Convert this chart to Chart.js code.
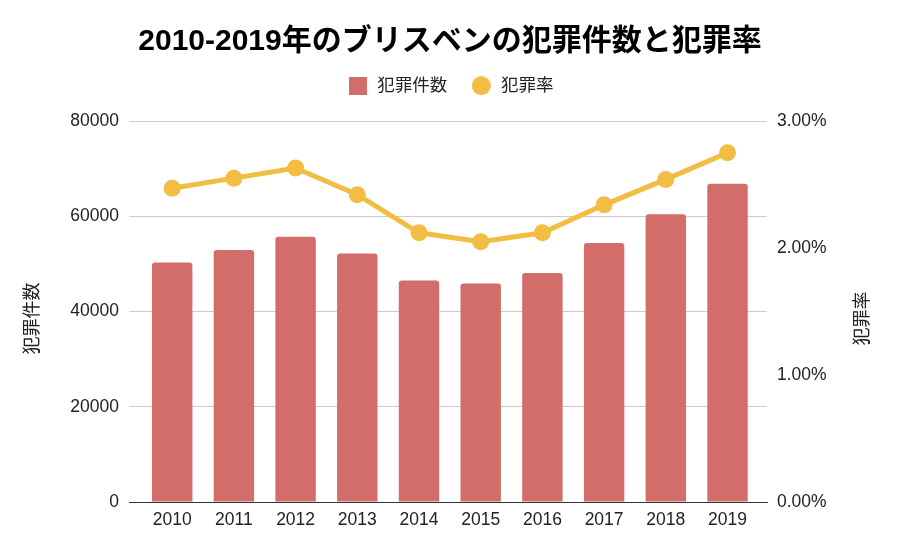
<!DOCTYPE html>
<html>
<head>
<meta charset="utf-8">
<script src="https://cdn.jsdelivr.net/npm/chart.js@4.4.1/dist/chart.umd.min.js"></script>
<style>
  html, body { margin: 0; padding: 0; background: #ffffff; }
  #wrap { width: 900px; height: 556px; }
</style>
</head>
<body>
<div id="wrap"><canvas id="c" width="900" height="556"></canvas></div>
<script>
// ---- data ----
const years = ['2010', '2011', '2012', '2013', '2014', '2015', '2016', '2017', '2018', '2019'];
const crimeCounts = [50300, 52900, 55700, 52200, 46500, 45900, 48100, 54400, 60400, 66800];
const crimeRates = [2.47, 2.55, 2.63, 2.42, 2.12, 2.05, 2.12, 2.34, 2.54, 2.75]; // percent
const countTicks = [0, 20000, 40000, 60000, 80000];
const rateTicks = [0, 1, 2, 3];
const chartTitle = '2010-2019年のブリスベンの犯罪件数と犯罪率';
const countLabel = '犯罪件数';
const rateLabel = '犯罪率';

// ---- styles ----
const BAR_COLOR = '#D36D69';
const LINE_COLOR = '#F1BD42';
const TEXT_COLOR = '#222222';
const FONT = "'Liberation Sans', 'Noto Sans CJK JP', Arial, sans-serif";

function makeSwatch(kind, color, size) {
  const cv = document.createElement('canvas');
  cv.width = size; cv.height = size;
  const g = cv.getContext('2d');
  g.fillStyle = color;
  if (kind === 'rect') {
    g.fillRect(0, 0, size, size);
  } else {
    g.beginPath();
    g.arc(size / 2, size / 2, size / 2, 0, Math.PI * 2);
    g.fill();
  }
  return cv;
}
const barSwatch = makeSwatch('rect', BAR_COLOR, 18);
const lineSwatch = makeSwatch('circle', LINE_COLOR, 19);

const axisTitlePlugin = {
  id: 'axisTitles',
  afterInit(chart) {
    const lg = chart.legend;
    if (lg) {
      const origFit = lg.fit.bind(lg);
      lg.fit = function () { origFit(); this.height += 16.5; };
    }
  },
  afterDraw(chart) {
    const ctx = chart.ctx;
    const a = chart.chartArea;
    const cy = (a.top + a.bottom) / 2 + 7;
    ctx.save();
    ctx.fillStyle = TEXT_COLOR;
    ctx.font = '18px ' + FONT;
    ctx.textAlign = 'center';
    ctx.textBaseline = 'middle';
    [[a.left - 96, countLabel], [a.right + 96, rateLabel]].forEach(([x, t]) => {
      ctx.save();
      ctx.translate(x, cy);
      ctx.rotate(-Math.PI / 2);
      ctx.fillText(t, 0, 0);
      ctx.restore();
    });
    ctx.restore();
  }
};

const ctx = document.getElementById('c').getContext('2d');
new Chart(ctx, {
  type: 'bar',
  data: {
    datasets: [
      {
        type: 'line',
        label: rateLabel,
        data: years.map((y, i) => ({ x: i, y: crimeRates[i] })),
        yAxisID: 'yRate',
        borderColor: LINE_COLOR,
        backgroundColor: LINE_COLOR,
        borderWidth: 5,
        tension: 0,
        pointRadius: 8.5,
        pointBorderWidth: 0,
        pointBackgroundColor: LINE_COLOR,
        order: 1
      },
      {
        type: 'bar',
        label: countLabel,
        data: years.map((y, i) => ({ x: i, y: crimeCounts[i] })),
        yAxisID: 'yCount',
        backgroundColor: BAR_COLOR,
        borderWidth: 0,
        borderRadius: { topLeft: 3, topRight: 3 },
        borderSkipped: 'start',
        categoryPercentage: 1,
        barPercentage: 0.655,
        order: 2
      }
    ]
  },
  options: {
    responsive: false,
    animation: false,
    devicePixelRatio: 1,
    layout: { padding: 0 },
    plugins: {
      title: {
        display: true,
        text: chartTitle,
        color: '#000000',
        font: { family: FONT, size: 30, weight: 'bold', lineHeight: 0.8 },
        padding: { top: 30, bottom: 0 }
      },
      legend: {
        display: true,
        position: 'top',
        reverse: true,
        labels: {
          color: TEXT_COLOR,
          font: { family: FONT, size: 17.5 },
          usePointStyle: true,
          pointStyleWidth: 22,
          padding: 23,
          generateLabels(chart) {
            const items = Chart.defaults.plugins.legend.labels.generateLabels(chart);
            items.forEach(it => {
              const ds = chart.data.datasets[it.datasetIndex];
              it.pointStyle = ds.type === 'line' ? lineSwatch : barSwatch;
            });
            return items;
          }
        }
      },
      tooltip: { enabled: false }
    },
    scales: {
      x: {
        type: 'linear',
        offset: false,
        min: -0.7,
        max: 9.64,
        afterBuildTicks(scale) {
          scale.ticks = years.map((y, i) => ({ value: i }));
        },
        afterFit(scale) { scale.height = 54; },
        grid: { display: false, drawTicks: false },
        border: { display: true, color: '#333333', width: 1 },
        ticks: {
          autoSkip: false,
          maxRotation: 0,
          padding: 8,
          color: TEXT_COLOR,
          font: { family: FONT, size: 17.5 },
          callback: (v) => years[v]
        }
      },
      yCount: {
        type: 'linear',
        position: 'left',
        min: 0,
        max: 80000,
        afterBuildTicks(scale) {
          scale.ticks = countTicks.map(v => ({ value: v }));
        },
        afterFit(scale) { scale.width = 129; },
        grid: { color: '#CCCCCC', lineWidth: 1, drawTicks: false },
        border: { display: false },
        ticks: {
          padding: 10,
          color: TEXT_COLOR,
          font: { family: FONT, size: 17.5 },
          callback: (v) => String(v)
        }
      },
      yRate: {
        type: 'linear',
        position: 'right',
        min: 0,
        max: 3,
        afterBuildTicks(scale) {
          scale.ticks = rateTicks.map(v => ({ value: v }));
        },
        afterFit(scale) { scale.width = 133; },
        grid: { display: false, drawOnChartArea: false, drawTicks: false },
        border: { display: false },
        ticks: {
          padding: 10,
          color: TEXT_COLOR,
          font: { family: FONT, size: 17.5 },
          callback: (v) => Number(v).toFixed(2) + '%'
        }
      }
    }
  },
  plugins: [axisTitlePlugin]
});
</script>
</body>
</html>
